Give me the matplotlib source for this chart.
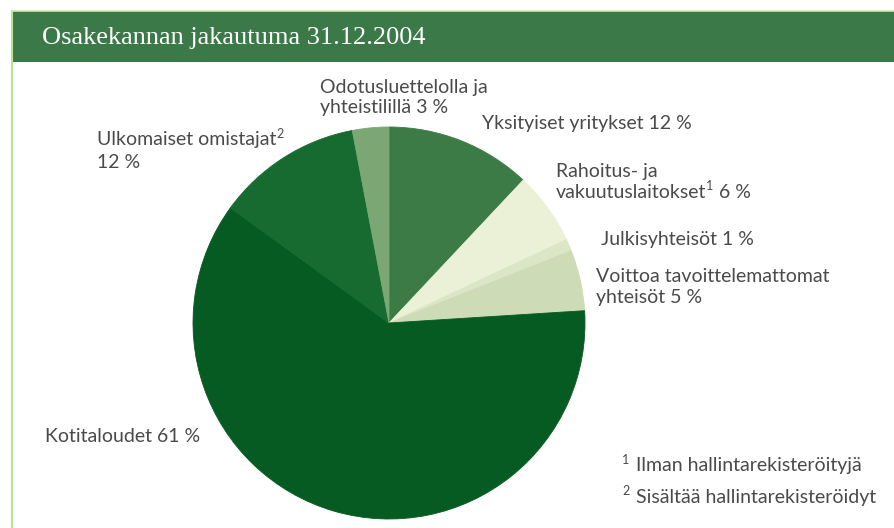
import matplotlib
matplotlib.use("Agg")
from matplotlib import pyplot as plt
from matplotlib.patches import Rectangle

W, H = 895, 528

# data, clockwise from the top
labels = ["Yksityiset yritykset", "Rahoitus- ja vakuutuslaitokset", "Julkisyhteisöt",
          "Voittoa tavoittelemattomat yhteisöt", "Kotitaloudet", "Ulkomaiset omistajat",
          "Odotusluettelolla ja yhteistilillä"]
shares = [12, 6, 1, 5, 61, 12, 3]
colors = ["#3c7b45", "#eaf1d6", "#dbe6c6", "#cddbb6", "#055b21", "#176b30", "#7ba775"]

title = "Osakekannan jakautuma 31.12.2004"
notes = ["Ilman hallintarekisteröityjä", "Sisältää hallintarekisteröidyt"]

fig = plt.figure(figsize=(W / 100, H / 100), dpi=100)
ax = fig.add_axes([0, 0, 1, 1])

def py(y):
    return H - y

wedges, _ = ax.pie(shares, colors=colors, startangle=90, counterclock=False,
                   center=(389, py(323)), radius=196, frame=True)
for w in wedges:
    w.set_edgecolor(w.get_facecolor())
    w.set_linewidth(0.6)
ax.set_xlim(0, W)
ax.set_ylim(0, H)
ax.set_aspect("equal")
ax.axis("off")

# frame + header
ax.add_patch(Rectangle((12, py(62)), W, 51, color="#3b7a48", lw=0))
ax.plot([12.5, 12.5], [0, py(11)], color="#b9e394", lw=1.5)
ax.plot([12, W], [py(11.2), py(11.2)], color="#cfe8a8", lw=1.2)
ax.text(42, py(38), title, color="white", fontsize=19, family="Liberation Serif",
        va="center", ha="left")

txt = dict(family="Lato", fontsize=14, color="#4a4a4a", ha="left", va="center")
sup = dict(txt, fontsize=9)

fig.canvas.draw()
r = fig.canvas.get_renderer()

def right_of(t):
    bb = t.get_window_extent(r)
    return ax.transData.inverted().transform((bb.x1, bb.y0))[0]

ax.text(320, py(88), "Odotusluettelolla ja", **txt)
ax.text(320, py(108), f"yhteistilillä {shares[6]} %", **txt)
ax.text(482, py(123), f"Yksityiset yritykset {shares[0]} %", **txt)

t = ax.text(97, py(140), "Ulkomaiset omistajat", **txt)
ax.text(right_of(t), py(134), "2", **sup)
ax.text(97, py(162), f"{shares[5]} %", **txt)

ax.text(556, py(171), "Rahoitus- ja", **txt)
t = ax.text(556, py(192), "vakuutuslaitokset", **txt)
s = ax.text(right_of(t), py(186), "1", **sup)
ax.text(right_of(s), py(192), f" {shares[1]} %", **txt)

ax.text(601, py(239), f"Julkisyhteisöt {shares[2]} %", **txt)
ax.text(596, py(276), "Voittoa tavoittelemattomat", **txt)
ax.text(596, py(298), f"yhteisöt {shares[3]} %", **txt)
ax.text(45, py(437), f"Kotitaloudet {shares[4]} %", **txt)

for i, (n, y) in enumerate(zip(notes, [466, 497])):
    ax.text(622, py(y - 6), str(i + 1), **sup)
    ax.text(636, py(y), n, **txt)

fig.savefig("out.png", dpi=100)
